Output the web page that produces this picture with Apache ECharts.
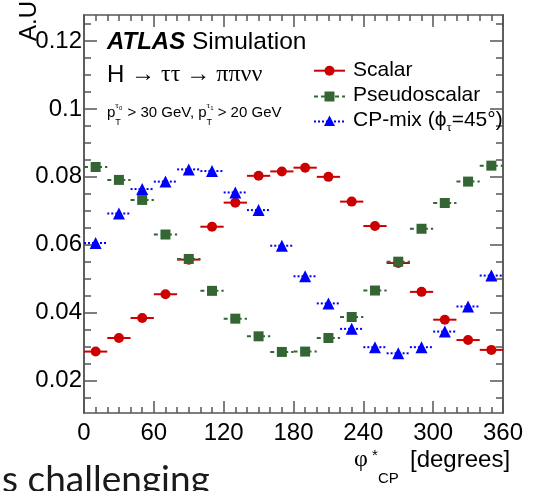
<!DOCTYPE html>
<html><head><meta charset="utf-8">
<script src="https://cdn.jsdelivr.net/npm/echarts@6/dist/echarts.min.js"></script>
<style>html,body{margin:0;padding:0;background:#fff;overflow:hidden}#c{width:533px;height:491px}</style>
</head><body><div id="c"></div>
<script>
// ---- data ----
const binCenters = [10, 30, 50, 70, 90, 110, 130, 150, 170, 190, 210, 230, 250, 270, 290, 310, 330, 350];
const binWidth = 20;
const scalar = [0.0285, 0.0325, 0.0384, 0.0454, 0.0556, 0.0653, 0.0724, 0.0803, 0.0816, 0.0827, 0.0800, 0.0727, 0.0655, 0.0546, 0.0461, 0.0379, 0.0319, 0.0290];
const pseudoscalar = [0.0829, 0.0791, 0.0732, 0.0630, 0.0558, 0.0464, 0.0382, 0.0330, 0.0284, 0.0285, 0.0325, 0.0387, 0.0465, 0.0550, 0.0647, 0.0723, 0.0786, 0.0833];
const cpMix = [0.0605, 0.0692, 0.0764, 0.0786, 0.0822, 0.0817, 0.0754, 0.0702, 0.0597, 0.0507, 0.0427, 0.0352, 0.0298, 0.0280, 0.0298, 0.0344, 0.0418, 0.0509];
const seriesNames = ['Scalar', 'Pseudoscalar', 'CP-mix'];
const yMajorTicks = [0.02, 0.04, 0.06, 0.08, 0.1, 0.12];
const yMinorTicks = [0.015, 0.025, 0.03, 0.035, 0.045, 0.05, 0.055, 0.065, 0.07, 0.075, 0.085, 0.09, 0.095, 0.105, 0.11, 0.115, 0.125];
const xMin = 0, xMax = 360, xStep = 60;
const yMin = 0.0104, yMax = 0.1277;

// ---- styles ----
const FONT = '"Liberation Sans", Arial, sans-serif';
const SERIF = '"Liberation Serif", "Times New Roman", serif';
const RED = '#cc0000', GREEN = '#336633', BLUE = '#0000ff';
const AXC = '#555555';

const chart = echarts.init(document.getElementById('c'), null, {renderer: 'canvas'});

const mctx = document.createElement('canvas').getContext('2d');
function tw(t, fs, fam, fw, fst) {
  mctx.font = (fst || 'normal') + ' ' + (fw || 'normal') + ' ' + fs + 'px ' + (fam || FONT);
  return mctx.measureText(t).width;
}
// place text pieces sequentially along a baseline
function textSeq(x0, base, parts, fill) {
  const out = [];
  let x = x0;
  parts.forEach(p => {
    const fs = p.fs, fam = p.fam || FONT;
    const font = (p.fst || 'normal') + ' ' + (p.fw || 'normal') + ' ' + fs + 'px ' + fam;
    const px = (p.x !== undefined) ? p.x : x + (p.dx || 0);
    out.push({
      type: 'text', x: px, y: base + (p.dy || 0) - 0.35 * fs, z: 100,
      style: {text: p.t, font: font, fill: fill || '#000', textAlign: 'left', textVerticalAlign: 'middle'}
    });
    if (!p.noAdv) x = px + tw(p.t, fs, fam, p.fw, p.fst);
  });
  return out;
}

function errLines(values, color, dash) {
  return {
    type: 'custom', xAxisIndex: 0, yAxisIndex: 0,
    data: binCenters.map((c, i) => [c, values[i]]),
    renderItem: function (params, api) {
      const x = api.value(0), y = api.value(1);
      const p1 = api.coord([x - binWidth / 2, y]);
      const p2 = api.coord([x + binWidth / 2, y]);
      return {type: 'line', shape: {x1: p1[0], y1: p1[1], x2: p2[0], y2: p2[1]},
        style: {stroke: color, lineWidth: 2, lineDash: dash}};
    },
    silent: true, animation: false
  };
}
function markers(name, values, color, symbol, size) {
  return {
    type: 'scatter', name: name, xAxisIndex: 0, yAxisIndex: 0,
    data: binCenters.map((c, i) => [c, values[i]]),
    symbol: symbol, symbolSize: size,
    itemStyle: {color: color, opacity: 1}, animation: false
  };
}

const yFmt = v => String(+v.toFixed(3));
function yAxisDef(pos, ticks, len, labels) {
  return {
    type: 'value', position: pos, min: yMin, max: yMax,
    axisLine: {show: true, lineStyle: {color: AXC, width: 1.5}},
    axisTick: {show: true, inside: true, length: len, customValues: ticks, lineStyle: {color: AXC, width: 1.5}},
    axisLabel: {show: labels, customValues: ticks, formatter: yFmt, color: '#000', fontFamily: FONT, fontSize: 24, margin: 2},
    splitLine: {show: false}, minorTick: {show: false}
  };
}
function xAxisDef(pos, labels) {
  return {
    type: 'value', position: pos, min: xMin, max: xMax, interval: xStep,
    axisLine: {show: true, lineStyle: {color: AXC, width: 1.5}},
    axisTick: {show: true, inside: true, length: 12, lineStyle: {color: AXC, width: 1.5}},
    minorTick: {show: true, splitNumber: 6, length: 6, lineStyle: {color: AXC, width: 1.5}},
    axisLabel: {show: labels, color: '#000', fontFamily: FONT, fontSize: 24, margin: 8},
    splitLine: {show: false}, minorSplitLine: {show: false}
  };
}

// ---- annotations ----
const g = [];
// y axis title
g.push({type: 'text', x: 41, y: 41, rotation: Math.PI / 2, z: 100,
  style: {text: 'A.U.', font: 'normal 24px ' + FONT, fill: '#000', textAlign: 'left', textVerticalAlign: 'bottom'}});
// ATLAS Simulation
g.push(...textSeq(107, 50.7, [
  {t: 'ATLAS', fs: 24, fw: 'bold', fst: 'italic'},
  {t: ' Simulation', fs: 24.5}
]));
// H -> tautau -> pipinunu
g.push(...textSeq(107, 83.5, [
  {t: 'H ', fs: 24},
  {t: '\u2192', fs: 24, fam: SERIF},
  {t: ' \u03c4\u03c4 ', fs: 24, fam: SERIF},
  {t: '\u2192', fs: 24, fam: SERIF},
  {t: ' \u03c0\u03c0\u03bd\u03bd', fs: 24, fam: SERIF}
]));
// pT cuts
g.push(...textSeq(107, 118.3, [
  {t: 'p', fs: 15},
  {t: 'T', fs: 9, dy: 7, noAdv: true},
  {t: '\u03c4', fs: 9, dy: -10, fam: SERIF},
  {t: '0', fs: 6, dy: -8},
  {t: ' > 30 GeV, p', fs: 15, dx: 1},
  {t: 'T', fs: 9, dy: 7, noAdv: true},
  {t: '\u03c4', fs: 9, dy: -10, fam: SERIF},
  {t: '1', fs: 6, dy: -8},
  {t: ' > 20 GeV', fs: 15, dx: 0}
]));
// legend
const legY = [70.7, 96.5, 121.5];
const legX1 = 314, legX2 = 345, legXm = 329.5, legTx = 353;
g.push({type: 'line', shape: {x1: legX1, y1: legY[0], x2: legX2, y2: legY[0]}, style: {stroke: RED, lineWidth: 2}, z: 100});
g.push({type: 'circle', shape: {cx: legXm, cy: legY[0], r: 5}, style: {fill: RED}, z: 101});
g.push({type: 'line', shape: {x1: legX1, y1: legY[1], x2: legX2, y2: legY[1]}, style: {stroke: GREEN, lineWidth: 2, lineDash: [4, 3]}, z: 100});
g.push({type: 'rect', shape: {x: legXm - 5, y: legY[1] - 5, width: 10, height: 10}, style: {fill: GREEN}, z: 101});
g.push({type: 'line', shape: {x1: legX1, y1: legY[2], x2: legX2, y2: legY[2]}, style: {stroke: BLUE, lineWidth: 2, lineDash: [2, 2]}, z: 100});
g.push({type: 'polygon', shape: {points: [[legXm, legY[2] - 6], [legXm - 5.5, legY[2] + 4.5], [legXm + 5.5, legY[2] + 4.5]]}, style: {fill: BLUE}, z: 101});
g.push(...textSeq(legTx, legY[0] + 6.5, [{t: 'Scalar', fs: 21}]));
g.push(...textSeq(legTx, legY[1] + 6.5, [{t: 'Pseudoscalar', fs: 21}]));
g.push(...textSeq(legTx, legY[2] + 6, [
  {t: 'CP-mix (\u03d5', fs: 21},
  {t: '\u03c4', fs: 13, dy: 5, fam: SERIF},
  {t: '=45\u00b0)', fs: 21}
]));
// x axis title
g.push(...textSeq(354, 468.3, [
  {t: '\u03c6', fs: 24, fam: SERIF},
  {t: '*', fs: 15, dy: -7, x: 372},
  {t: 'CP', fs: 15, dy: 16, x: 378},
  {t: '[degrees]', fs: 24, x: 410}
]));
// slide text fragment
g.push({type: 'text', x: 2, y: 488 - 0.39 * 37 + 6, z: 100,
  style: {text: 's challenging', font: 'normal 37px Lato, "Open Sans", sans-serif', fill: '#1a1a1a', textAlign: 'left', textVerticalAlign: 'middle'}});

const option = {
  backgroundColor: '#ffffff',
  animation: false,
  grid: {left: 84, right: 30, top: 15, bottom: 78, containLabel: false},
  xAxis: [xAxisDef('bottom', true), xAxisDef('top', false)],
  yAxis: [
    yAxisDef('left', yMajorTicks, 13, true),
    yAxisDef('left', yMinorTicks, 7, false),
    yAxisDef('right', yMajorTicks, 13, false),
    yAxisDef('right', yMinorTicks, 7, false)
  ],
  series: [
    errLines(scalar, RED, null),
    markers(seriesNames[0], scalar, RED, 'circle', 10),
    errLines(pseudoscalar, GREEN, [4, 3]),
    markers(seriesNames[1], pseudoscalar, GREEN, 'rect', 10),
    errLines(cpMix, BLUE, [2, 2]),
    markers(seriesNames[2], cpMix, BLUE, 'triangle', 12)
  ],
  graphic: g
};
chart.setOption(option);
</script>
</body></html>
